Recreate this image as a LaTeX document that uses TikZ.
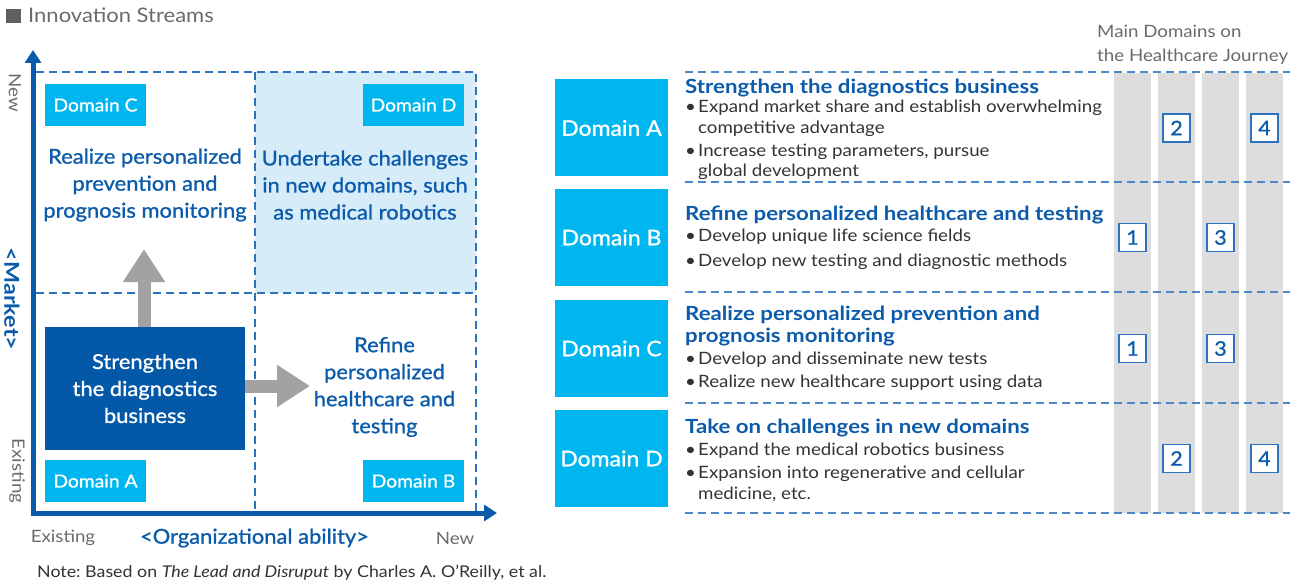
\documentclass[tikz,border=0pt]{standalone}
\usepackage{fontspec}
\setmainfont{Lato}[FakeStretch=1.1]
\newfontfamily\medf{Lato}[FakeStretch=1.07,FakeBold=1]
\newfontfamily\hdf{Lato}[FakeStretch=1.14]
\usetikzlibrary{arrows.meta}
\definecolor{cyanbox}{HTML}{00B6EE}
\definecolor{darkbox}{HTML}{0358A8}
\definecolor{tblue}{HTML}{0B5BAA}
\definecolor{ablue}{HTML}{0A5AAB}
\definecolor{dblue}{HTML}{2D72BF}
\definecolor{rblue}{HTML}{4A89C9}
\definecolor{agray}{HTML}{A2A2A2}
\definecolor{lfill}{HTML}{D6ECF9}
\definecolor{colgray}{HTML}{DDDDDD}
\definecolor{lgray}{HTML}{6A6A6A}
\definecolor{body}{HTML}{333333}
\frenchspacing
\begin{document}
\begin{tikzpicture}[x=1pt,y=-1pt,
  dom/.style={fill=cyanbox,text=white,inner sep=0pt,minimum width=101pt,minimum height=42pt,font=\medf\fontsize{18}{20}\selectfont},
  qtext/.style={text=tblue,align=center,inner sep=0pt,font=\medf\fontsize{20.5}{27}\selectfont},
  gridline/.style={draw=dblue,line width=1.6pt,dash pattern=on 8pt off 5pt},
  rowline/.style={draw=rblue,line width=1.6pt,dash pattern=on 8pt off 5pt},
  fat/.style={draw=agray,line width=13pt,-{Triangle[width=40pt,length=33pt]}},
  axis/.style={draw=ablue,line width=5pt,line join=miter,{Triangle[width=16pt,length=13pt]}-{Triangle[width=16pt,length=13pt]}},
  lbl/.style={text=lgray,inner sep=0pt,font=\fontsize{17}{20}\selectfont},
  rdom/.style={fill=cyanbox,text=white,inner sep=0pt,minimum width=113pt,minimum height=97pt,font=\medf\fontsize{21.5}{24}\selectfont},
  col/.style={fill=colgray},
  num/.style={draw=dblue,line width=1.3pt,fill=white,minimum width=27pt,minimum height=28pt,inner sep=0pt,text=tblue,font=\medf\fontsize{20}{20}\selectfont},
  hd/.style={anchor=base west,text=tblue,inner sep=0pt,font=\hdf\bfseries\fontsize{19.5}{22}\selectfont},
  bl/.style={anchor=base west,text=body,inner sep=0pt,font=\fontsize{17}{20}\selectfont},
]
\useasboundingbox (0,0) rectangle (1303,585);
% title
\fill[lgray!90!black] (6,9) rectangle (21,23);
\node[lbl,anchor=base west,font=\fontsize{20}{22}\selectfont] (title) at (28,23) {Innovation Streams};
% quadrant
\fill[lfill] (255,72) rectangle (476,293);
\draw[gridline] (36,72) -- (476,72) -- (476,511);
\draw[gridline] (255,72) -- (255,511);
\draw[gridline] (36,293) -- (476,293);
\coordinate (O) at (33,513);
\coordinate (yTip) at (33,50);
\coordinate (xTip) at (497,513);
\draw[axis] (yTip) -- (O) -- (xTip);
\node[dom] (dC) at (95.5,105) {Domain C};
\node[dom] (dD) at (413.5,105) {Domain D};
\node[dom] (dA) at (95.5,481) {Domain A};
\node[dom] (dB) at (413.5,481) {Domain B};
\node[qtext] (qC) at (145,185) {Realize personalized\\prevention and\\prognosis monitoring};
\node[qtext] (qD) at (365,185) {Undertake challenges\\in new domains, such\\as medical robotics};
\node[qtext] (qB) at (384.5,387) {Refine\\personalized\\healthcare and\\testing};
\node[fill=darkbox,text=white,align=center,inner sep=0pt,minimum width=200pt,minimum height=123pt,font=\medf\fontsize{20.5}{27}\selectfont] (S) at (145,388.5) {Strengthen\\the diagnostics\\business};
\coordinate (upTip) at (144,249);
\coordinate (rtTip) at (310,386);
\draw[fat] (S.north -| upTip) -- (upTip);
\draw[fat] (S.east |- rtTip) -- (rtTip);
% axis labels
\node[lbl,rotate=-90] (yNew) at (15,93) {New};
\node[lbl,rotate=-90] (yEx) at (17,471) {Existing};
\node[text=tblue,inner sep=0pt,rotate=-90,font=\hdf\bfseries\fontsize{20.5}{22}\selectfont] (yMk) at (12,299) {<Market>};
\node[lbl] (xEx) at (63,538) {Existing};
\node[lbl] (xNew) at (455,538) {New};
\node[text=tblue,inner sep=0pt,font=\medf\fontsize{20.5}{22}\selectfont] (xOrg) at (254.5,538) {<Organizational ability>};
\node[anchor=base west,inner sep=0pt,text=body,font=\fontsize{16.2}{18}\selectfont] (note) at (37,577) {Note: Based on \textit{The Lead and Disruput} by Charles A. O’Reilly, et al.};
% right header
\node[lbl,anchor=base west] (h1) at (1097,38) {Main Domains on};
\node[lbl,anchor=base west] (h2) at (1097,62) {the Healthcare Journey};
% columns
\fill[col] (1114,73) rectangle (1151,513);
\fill[col] (1158,73) rectangle (1195,513);
\fill[col] (1202,73) rectangle (1239,513);
\fill[col] (1246,73) rectangle (1283,513);
\foreach \yy in {72,182,292,403,513} \draw[rowline] (685,\yy) -- (1290,\yy);
% right domain boxes
\node[rdom] (RA) at (611.5,128) {Domain A};
\node[rdom] (RB) at (611.5,237.5) {Domain B};
\node[rdom] (RC) at (611.5,348.5) {Domain C};
\node[rdom] (RD) at (611.5,458.5) {Domain D};
% numbers
\node[num] (nA2) at (1176.5,128) {2};
\node[num] (nA4) at (1264.5,128) {4};
\node[num] (nB1) at (1132.5,237.5) {1};
\node[num] (nB3) at (1220.5,237.5) {3};
\node[num] (nC1) at (1132.5,348.5) {1};
\node[num] (nC3) at (1220.5,348.5) {3};
\node[num] (nD2) at (1176.5,458.5) {2};
\node[num] (nD4) at (1264.5,458.5) {4};
% row texts
\node[hd] (tA0) at (685,94) {Strengthen the diagnostics business};
\node[bl] (tA1) at (685,113) {\makebox[13pt][l]{\textbullet}Expand market share and establish overwhelming};
\node[bl] (tA2) at (698,134) {competitive advantage};
\node[bl] (tA3) at (685,157) {\makebox[13pt][l]{\textbullet}Increase testing parameters, pursue};
\node[bl] (tA4) at (698,177) {global development};
\node[hd] (tB0) at (685,221) {Refine personalized healthcare and testing};
\node[bl] (tB1) at (685,242) {\makebox[13pt][l]{\textbullet}Develop unique life science fields};
\node[bl] (tB2) at (685,266) {\makebox[13pt][l]{\textbullet}Develop new testing and diagnostic methods};
\node[hd] (tC0) at (685,320) {Realize personalized prevention and};
\node[hd] (tC1) at (685,342) {prognosis monitoring};
\node[bl] (tC2) at (685,364) {\makebox[13pt][l]{\textbullet}Develop and disseminate new tests};
\node[bl] (tC3) at (685,387) {\makebox[13pt][l]{\textbullet}Realize new healthcare support using data};
\node[hd] (tD0) at (685,433) {Take on challenges in new domains};
\node[bl] (tD1) at (685,455) {\makebox[13pt][l]{\textbullet}Expand the medical robotics business};
\node[bl] (tD2) at (685,478) {\makebox[13pt][l]{\textbullet}Expansion into regenerative and cellular};
\node[bl] (tD3) at (698,499) {medicine, etc.};
\end{tikzpicture}
\end{document}
